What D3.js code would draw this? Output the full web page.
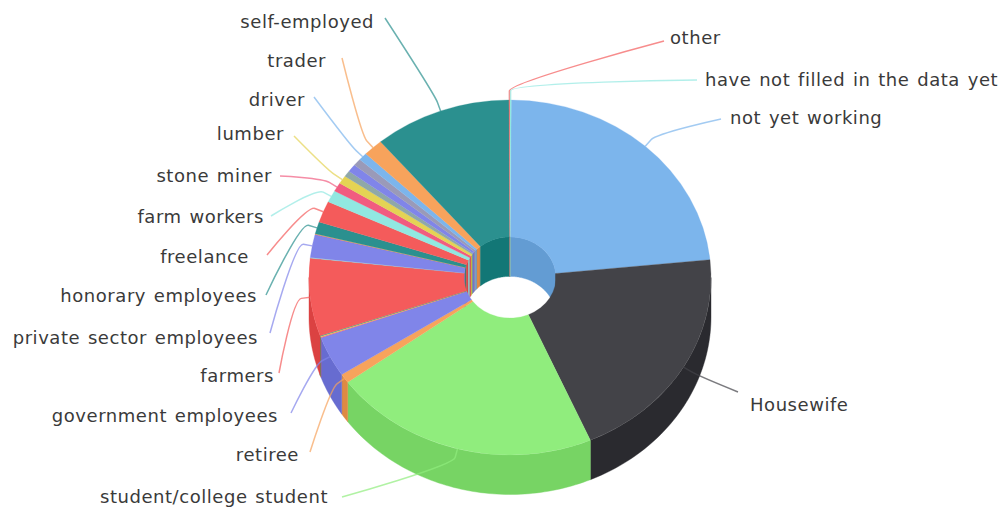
<!DOCTYPE html>
<html>
<head>
<meta charset="utf-8">
<script src="https://cdn.jsdelivr.net/npm/d3@7/dist/d3.min.js"></script>
<style>
  html, body { margin: 0; padding: 0; background: #fff; }
  svg { display: block; }
  text { font-family: "DejaVu Sans", sans-serif; font-size: 18px; letter-spacing: 0.55px; word-spacing: 1.5px; fill: #3a3a3a; }
</style>
</head>
<body>
<svg id="chart" width="999" height="509"></svg>
<script>
// Occupation breakdown, share of respondents in percent.
const categories = [
  "not yet working", "Housewife", "student/college student", "retiree",
  "government employees", "", "", "", "farmers", "",
  "private sector employees", "", "", "honorary employees", "freelance", "farm workers",
  "stone miner", "lumber", "", "", "", "driver", "trader",
  "self-employed", "other", "have not filled in the data yet"
];
const shares = [
  23.3, 20.05, 21.5, 0.83,
  3.7, 0.06, 0.08, 0.06, 7.05, 0.06,
  2.1, 0.03, 0.03, 1.1, 1.95, 1.1,
  0.8, 0.75, 0.55, 0.7, 0.65, 0.7, 1.6,
  11.05, 0.08, 0.1
];
const colors = [
  "#7cb5ec", "#434348", "#90ed7d", "#f7a35c",
  "#8085e9", "#f15c80", "#e4d354", "#2b908f", "#f45b5b", "#91e8e1",
  "#8085e9", "#f15c80", "#e4d354", "#2b908f", "#f45b5b", "#91e8e1",
  "#f15c80", "#e4d354", "#8fa8a8", "#8085e9", "#9a9ab8", "#7cb5ec", "#f7a35c",
  "#2b908f", "#f45b5b", "#91e8e1"
];

// Label placement: [text x, text y, connector start x, connector start y].
const labelSpots = {
  "other": [670, 38, 664, 41],
  "have not filled in the data yet": [705, 80, 697, 80],
  "not yet working": [730, 118, 721, 119],
  "Housewife": [750, 405, 738, 392],
  "self-employed": [374, 22, 385, 18],
  "trader": [326, 61, 342, 58],
  "driver": [305, 100, 314, 97],
  "lumber": [284, 134, 294, 136],
  "stone miner": [272, 176, 280, 176],
  "farm workers": [264, 217, 271, 216],
  "freelance": [249, 257, 267, 255],
  "honorary employees": [257, 296, 266, 295],
  "private sector employees": [258, 338, 270, 333],
  "farmers": [274, 376, 279, 373],
  "government employees": [278, 416, 291, 413],
  "retiree": [299, 455, 310, 452],
  "student/college student": [328, 497, 342, 497]
};
const rightLabels = ["other", "have not filled in the data yet", "not yet working", "Housewife"];

const cx = 510, cy = 277.5, rx = 201, ry = 177.5, depth = 39.5;
const innerRx = 46, innerRy = innerRx * ry / rx;
const elbow = 9;

const svg = d3.select("#chart");
const tau = 2 * Math.PI;

const rows = categories.map((name, i) => ({ name, value: shares[i], color: colors[i] }));
const startAngle = 0.006;
const arcs = d3.pie().sort(null).value(d => d.value)
  .startAngle(startAngle).endAngle(startAngle + tau)(rows);

const shade = c => {
  const k = d3.rgb(c);
  return d3.rgb(k.r - 25, k.g - 25, k.b - 25).formatHex();
};
const onEllipse = (a, ax, ay, dy = 0) => [cx + ax * Math.sin(a), cy + dy - ay * Math.cos(a)];

// Side wall between the top rim and the same rim pushed down by the depth.
function wall(a0, a1, ax, ay) {
  const n = Math.max(2, Math.ceil((a1 - a0) / 0.02));
  const steps = d3.range(n + 1).map(i => a0 + (a1 - a0) * i / n);
  const upper = steps.map(a => onEllipse(a, ax, ay));
  const lower = steps.slice().reverse().map(a => onEllipse(a, ax, ay, depth));
  return d3.line()(upper.concat(lower)) + "Z";
}

// Back half of the hole's inner wall.
const innerLayer = svg.append("g");
arcs.forEach(d => {
  const pieces = [[d.startAngle, Math.min(d.endAngle, tau / 4)],
                  [Math.max(d.startAngle, 3 * tau / 4), d.endAngle]];
  pieces.filter(p => p[1] > p[0]).forEach(p => {
    const fill = shade(d.data.color);
    innerLayer.append("path").attr("d", wall(p[0], p[1], innerRx, innerRy))
      .attr("fill", fill).attr("stroke", fill).attr("stroke-width", 0.4);
  });
});

// Front half of the outer wall.
const outerLayer = svg.append("g");
arcs.forEach(d => {
  const a0 = Math.max(d.startAngle, tau / 4), a1 = Math.min(d.endAngle, 3 * tau / 4);
  if (a1 > a0) {
    const fill = shade(d.data.color);
    outerLayer.append("path").attr("d", wall(a0, a1, rx, ry))
      .attr("fill", fill).attr("stroke", fill).attr("stroke-width", 0.4);
  }
});

// Top face: a regular ring squashed vertically into the tilted ellipse.
const ring = d3.arc().innerRadius(innerRx).outerRadius(rx);
svg.append("g")
  .attr("transform", `translate(${cx},${cy}) scale(1,${ry / rx})`)
  .selectAll("path").data(arcs).join("path")
  .attr("d", ring)
  .attr("fill", d => d.data.color)
  .attr("stroke", d => d.data.color)
  .attr("stroke-width", 0.3);

// Soft connectors run from each label to an elbow just outside the rim, then to the rim.
const labelled = arcs.filter(d => d.data.name);
const connector = d => {
  const [, , lx, ly] = labelSpots[d.data.name];
  const mid = (d.startAngle + d.endAngle) / 2;
  const [x2, y2] = onEllipse(mid, rx + elbow, ry + elbow);
  const [x3, y3] = onEllipse(mid, rx, ry);
  const p = d3.path();
  p.moveTo(lx, ly);
  p.bezierCurveTo(lx, ly, 2 * x2 - x3, 2 * y2 - y3, x2, y2);
  p.lineTo(x3, y3);
  return p.toString();
};
svg.append("g").selectAll("path").data(labelled).join("path")
  .attr("d", connector)
  .attr("fill", "none")
  .attr("stroke", d => d.data.color)
  .attr("stroke-width", 1.5)
  .attr("stroke-opacity", 0.7);

svg.append("g").selectAll("text").data(labelled).join("text")
  .attr("x", d => labelSpots[d.data.name][0])
  .attr("y", d => labelSpots[d.data.name][1])
  .attr("dy", "0.35em")
  .attr("text-anchor", d => rightLabels.includes(d.data.name) ? "start" : "end")
  .text(d => d.data.name);
</script>
</body>
</html>
